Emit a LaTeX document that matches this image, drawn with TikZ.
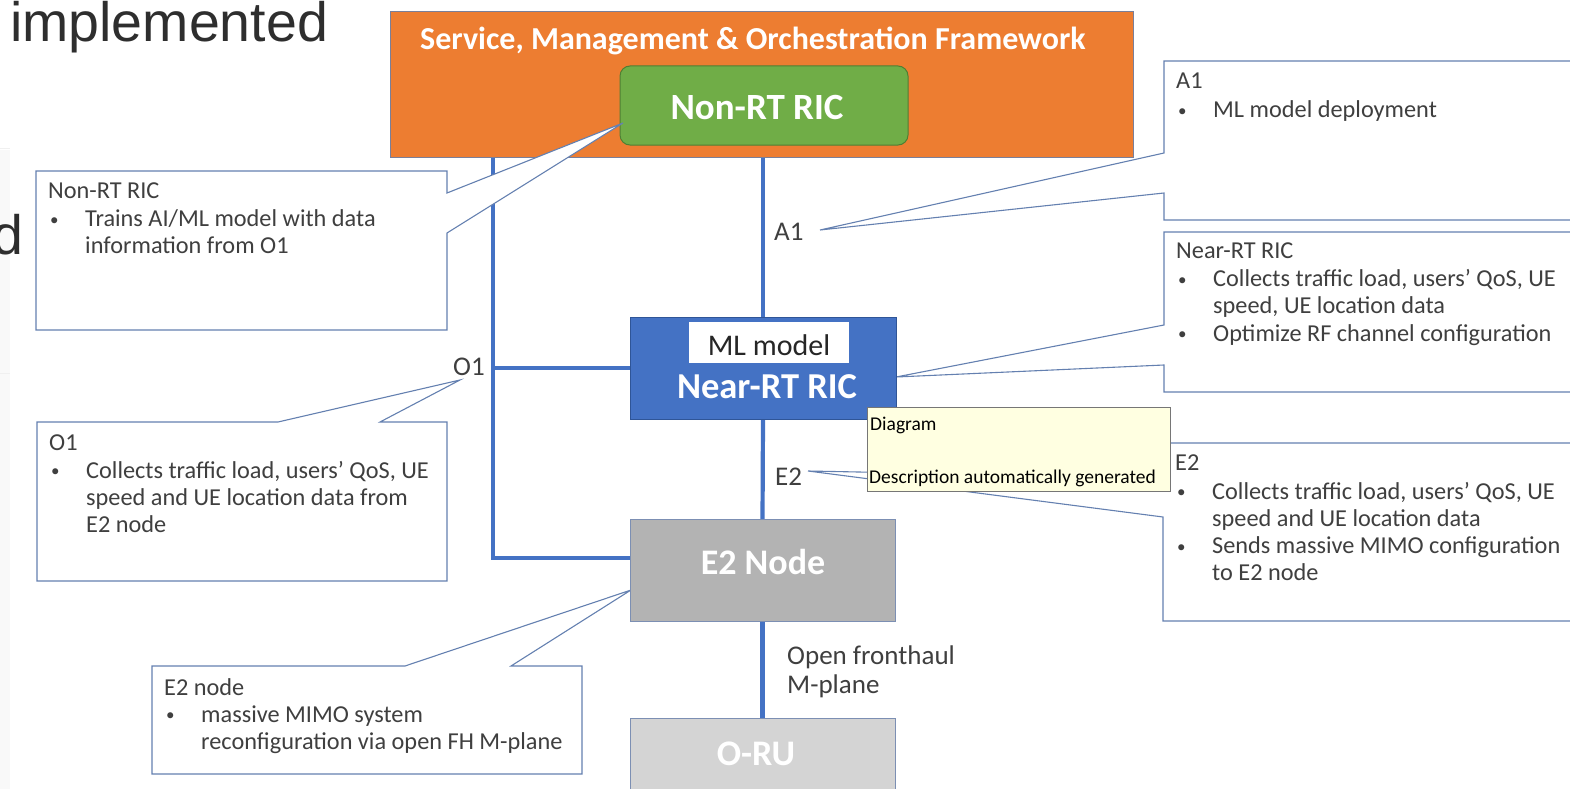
\documentclass[tikz,border=0pt]{standalone}
\usepackage{fontspec}
\setmainfont{Carlito}
\newfontfamily\slidefont{Liberation Sans}
\usetikzlibrary{calc}

\definecolor{smoorange}{HTML}{ED7D31}
\definecolor{smoedge}{HTML}{7A7F99}
\definecolor{ricgreen}{HTML}{70AD47}
\definecolor{ricgreenedge}{HTML}{4F7F33}
\definecolor{nearblue}{HTML}{4472C4}
\definecolor{nearblueedge}{HTML}{2F5597}
\definecolor{linkblue}{HTML}{4472C4}
\definecolor{e2gray}{HTML}{B3B3B3}
\definecolor{rugray}{HTML}{D4D4D4}
\definecolor{boxedge}{HTML}{7C8FB3}
\definecolor{calloutedge}{HTML}{6480B0}
\definecolor{txtgray}{HTML}{3F3F3F}
\definecolor{tipyellow}{HTML}{FFFFE1}
\definecolor{tipedge}{HTML}{767676}
\definecolor{slidetext}{HTML}{2E2E2E}

% bullet and hanging indent used inside the note boxes
\newcommand\cbul{\makebox[37pt][l]{\hspace{2pt}\raisebox{1.5pt}{\fontsize{17}{17}\selectfont\textbullet}}}
\newcommand\cind{\hspace*{37pt}}

\tikzset{
  link/.style={draw=linkblue, line width=4.2pt},
  callout/.style={draw=calloutedge, line width=1.1pt, fill=white, line join=miter},
  notetext/.style={anchor=base west, inner sep=0pt, text=txtgray,
    font=\fontsize{24.3}{27.2}\selectfont},
  linklabel/.style={anchor=base west, inner sep=0pt, text=txtgray,
    font=\fontsize{27}{31}\selectfont},
  boxlabel/.style={anchor=base, inner sep=0pt, text=white},
  plainbox/.style={rectangle, inner sep=0pt},
}

\begin{document}
\begin{tikzpicture}[x=1pt, y=-1pt]
\useasboundingbox (0,0) rectangle (1570,789);

% faint slide panel at the left edge
\fill[gray!5] (0,150) rectangle (10,789);
\draw[gray!12, line width=0.6pt] (0,148) -- (10,148);
\draw[gray!12, line width=0.6pt] (0,373) -- (10,373);

% SMO frame with the Non-RT RIC inside
\node[plainbox, fill=smoorange, draw=smoedge, line width=1pt,
  minimum width=743pt, minimum height=145pt] (smo) at (761.5,84.5) {};
\node[boxlabel, font=\bfseries\fontsize{32}{36}\selectfont] (smotitle) at (753,50)
  {Service, Management \& Orchestration Framework};
\node[plainbox, fill=ricgreen, draw=ricgreenedge, line width=1pt, rounded corners=10pt,
  minimum width=288pt, minimum height=79pt] (nonrt) at (764,105.5) {};
\node[boxlabel, font=\bfseries\fontsize{37}{40}\selectfont] (nonrtlabel) at (757,120) {Non-RT RIC};

% remaining boxes (shapes only; drawn again on top later)
\coordinate (nearc) at (763,368);
\coordinate (e2c) at (762.5,570);
\coordinate (oruc) at (762.5,760);
\node[plainbox, minimum width=266pt, minimum height=102pt] (nearrt) at (nearc) {};
\node[plainbox, minimum width=265pt, minimum height=102pt] (e2n) at (e2c) {};
\node[plainbox, minimum width=265pt, minimum height=84pt] (oru) at (oruc) {};

% interfaces
\coordinate (bus) at (493,0);
\coordinate (busE2) at (630,558);
\draw[link] (smo.south -| nearrt.north) -- (nearrt.north);
\draw[link] (bus |- smo.south) -- (bus |- busE2) -- (busE2);
\draw[link] (bus |- nearrt.west) -- (nearrt.west);
\draw[link] (nearrt.south) -- (e2n.north);
\draw[link] (e2n.south) -- (oru.north);

% note boxes with their pointers
\coordinate (tipNon) at (623,123);
\coordinate (tipA) at (820,230);
\coordinate (tipNear) at (896,377);
\coordinate (tipE) at (808,471);
\coordinate (tipO) at (460,380);
\coordinate (tipNode) at (631,590);

\draw[callout] (447,171) -- (447,193) -- (tipNon) -- (447,233) -- (447,330)
  -- (36,330) -- (36,171) -- cycle;
\draw[callout] (1164,61) -- (1164,153) -- (tipA) -- (1164,193) -- (1164,220)
  -- (1580,220) -- (1580,61) -- cycle;
\draw[callout] (1164,232) -- (1164,325) -- (tipNear) -- (1164,365) -- (1164,392)
  -- (1580,392) -- (1580,232) -- cycle;
\draw[callout] (1163,443) -- (1163,478) -- (tipE) -- (1163,517) -- (1163,621)
  -- (1580,621) -- (1580,443) -- cycle;
\draw[callout] (37,422) -- (278,422) -- (tipO) -- (380,422) -- (447,422)
  -- (447,581) -- (37,581) -- cycle;
\draw[callout] (152,666) -- (405,666) -- (tipNode) -- (511,666) -- (582,666)
  -- (582,774) -- (152,774) -- cycle;

\node[notetext] (noteNon) at (48,198) {\begin{tabular}[t]{@{}l@{}}
  Non-RT RIC\\[1.5pt]
  \cbul Trains AI/ML model with data\\
  \cind information from O1
\end{tabular}};
\node[notetext] (noteA) at (1176,89) {\begin{tabular}[t]{@{}l@{}}
  A1\\[1.5pt]
  \cbul ML model deployment
\end{tabular}};
\node[notetext] (noteNear) at (1176,258) {\begin{tabular}[t]{@{}l@{}}
  Near-RT RIC\\[1.5pt]
  \cbul Collects traffic load, users’ QoS, UE\\
  \cind speed, UE location data\\
  \cbul Optimize RF channel configuration
\end{tabular}};
\node[notetext] (noteE) at (1175,470) {\begin{tabular}[t]{@{}l@{}}
  E2\\[2pt]
  \cbul Collects traffic load, users’ QoS, UE\\
  \cind speed and UE location data\\
  \cbul Sends massive MIMO configuration\\
  \cind to E2 node
\end{tabular}};
\node[notetext] (noteO) at (49,450) {\begin{tabular}[t]{@{}l@{}}
  O1\\[1pt]
  \cbul Collects traffic load, users’ QoS, UE\\
  \cind speed and UE location data from\\
  \cind E2 node
\end{tabular}};
\node[notetext] (noteNode) at (164,695) {\begin{tabular}[t]{@{}l@{}}
  E2 node\\
  \cbul massive MIMO system\\
  \cind reconfiguration via open FH M-plane
\end{tabular}};

% Near-RT RIC, E2 Node and O-RU
\node[plainbox, fill=nearblue, draw=nearblueedge, line width=1pt,
  minimum width=266pt, minimum height=102pt] (nearfill) at (nearc) {};
\node[plainbox, fill=white, minimum width=160pt, minimum height=41pt] (mlbox) at (769,342.5) {};
\node[boxlabel, text=black!85, font=\fontsize{30}{34}\selectfont] (mllabel) at (769,355) {ML model};
\node[boxlabel, font=\bfseries\fontsize{36.5}{40}\selectfont] (nearlabel) at (767,398) {Near-RT RIC};

\node[plainbox, fill=e2gray, draw=boxedge, line width=1pt,
  minimum width=265pt, minimum height=102pt] (e2fill) at (e2c) {};
\node[boxlabel, font=\bfseries\fontsize{36}{40}\selectfont] (e2label) at (763,574) {E2 Node};

\node[plainbox, fill=rugray, draw=boxedge, line width=1pt,
  minimum width=265pt, minimum height=84pt] (orufill) at (oruc) {};
\node[boxlabel, font=\bfseries\fontsize{36}{40}\selectfont] (orulabel) at (756,765) {O-RU};

% interface names
\node[linklabel] (lblA) at (774,240) {A1};
\node[linklabel] (lblO) at (453,375) {O1};
\node[linklabel] (lblE) at (775,485) {E2};
\node[linklabel] (lblFh) at (787,664) {Open fronthaul};
\node[linklabel] (lblMp) at (787,693) {M-plane};

% hover tip
\node[plainbox, fill=tipyellow, draw=tipedge, line width=0.9pt,
  minimum width=303pt, minimum height=84pt] (tip) at (1018.5,449) {};
\node[anchor=base west, inner sep=0pt, font=\fontsize{19.5}{22}\selectfont] (tipA1) at (870,430) {Diagram};
\node[anchor=base west, inner sep=0pt, font=\fontsize{19.5}{22}\selectfont] (tipB1) at (869,483)
  {Description automatically generated};

% slide text around the figure
\node[anchor=base west, inner sep=0pt, text=slidetext, font=\slidefont\fontsize{55.5}{60}\selectfont]
  (slideA) at (10,42) {implemented};
\node[anchor=base east, inner sep=0pt, text=slidetext, font=\slidefont\fontsize{55.5}{60}\selectfont]
  (slideB) at (24,254) {d};
\end{tikzpicture}
\end{document}
